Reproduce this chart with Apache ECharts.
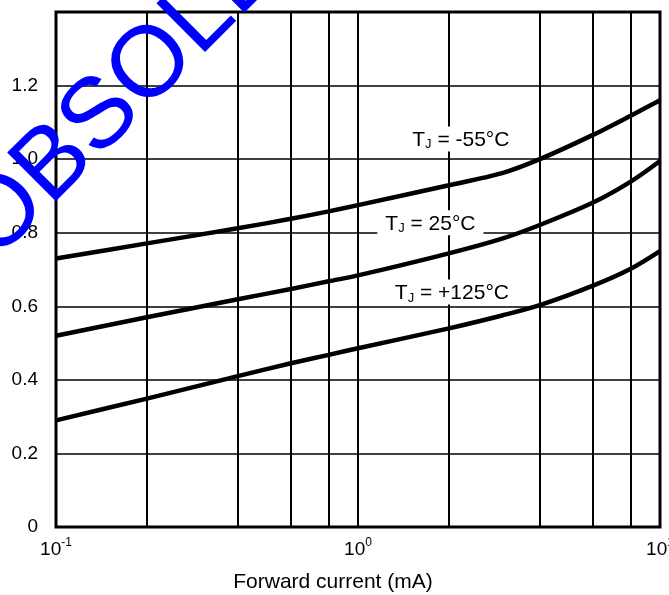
<!DOCTYPE html>
<html>
<head>
<meta charset="utf-8">
<script src="https://cdn.jsdelivr.net/npm/echarts@6/dist/echarts.min.js"></script>
<style>
  html, body { margin: 0; padding: 0; background: #fff; }
  #chart { width: 669px; height: 595px; }
</style>
</head>
<body>
<div id="chart"></div>
<script>
// forward current (mA) and forward voltage (V)
const currents = [0.1, 0.2, 0.4, 0.6, 0.8, 1, 2, 3, 4, 6, 8, 10]
const vfMinus55 = [0.73, 0.771, 0.812, 0.838, 0.858, 0.875, 0.929, 0.962, 1.0, 1.066, 1.118, 1.16]
const vf25 = [0.52, 0.57, 0.619, 0.647, 0.668, 0.684, 0.744, 0.784, 0.821, 0.882, 0.939, 0.995]
const vf125 = [0.29, 0.349, 0.41, 0.445, 0.468, 0.486, 0.54, 0.575, 0.603, 0.656, 0.702, 0.75]

// minor vertical grid lines inside each decade
const minorGrid = [0.2, 0.4, 0.6, 0.8, 2, 4, 6, 8]

// curve labels and where they sit (data coords)
const labelNames = ['-55°C', '25°C', '+125°C']
const labelAt = [[2.19, 1.055], [1.737, 0.827], [2.046, 0.639]]

const FONT = '"Liberation Sans", Arial, sans-serif'

const curve = (name, vals) => ({
  name: name,
  type: 'line',
  smooth: 0.3,
  symbol: 'none',
  z: 5,
  lineStyle: { color: '#000', width: 4.5 },
  data: currents.map((c, i) => [c, vals[i]])
})

const supLabel = v => {
  const e = Math.round(Math.log10(v))
  return '{b|10}{s|' + e + '}'
}

const option = {
  animation: false,
  backgroundColor: '#fff',
  grid: {
    left: 56, right: 9, top: 12, bottom: 68,
    outerBoundsMode: 'none',
    containLabel: false,
    show: true,
    borderColor: '#000',
    borderWidth: 3,
    z: 4
  },
  xAxis: {
    type: 'log',
    logBase: 10,
    min: 0.1,
    max: 10,
    axisLine: { show: false },
    axisTick: { show: false },
    splitLine: { show: true, lineStyle: { color: '#000', width: 2 } },
    axisLabel: {
      margin: 10,
      formatter: supLabel,
      rich: {
        b: { fontSize: 19, fontFamily: FONT, color: '#000', verticalAlign: 'bottom', lineHeight: 22 },
        s: { fontSize: 12, fontFamily: FONT, color: '#000', verticalAlign: 'top', lineHeight: 12 }
      }
    },
    name: 'Forward current (mA)',
    nameLocation: 'middle',
    nameGap: 45,
    nameTextStyle: { fontSize: 21, fontFamily: FONT, color: '#000', padding: [0, 50, 0, 0] }
  },
  yAxis: {
    type: 'value',
    min: 0,
    max: 1.4,
    interval: 0.2,
    axisLine: { show: false },
    axisTick: { show: false },
    splitLine: { show: true, lineStyle: { color: '#000', width: 1.5 } },
    axisLabel: {
      margin: 18,
      fontSize: 19,
      fontFamily: FONT,
      color: '#000',
      formatter: v => (v > 1.3 ? '' : v === 0 ? '0' : v.toFixed(1))
    }
  },
  series: [
    curve('TJ = -55°C', vfMinus55),
    curve('TJ = 25°C', vf25),
    curve('TJ = +125°C', vf125),
    {
      type: 'line',
      data: [],
      silent: true,
      markLine: {
        silent: true,
        symbol: 'none',
        label: { show: false },
        lineStyle: { color: '#000', width: 2, type: 'solid' },
        data: minorGrid.map(x => ({ xAxis: x }))
      }
    },
    {
      type: 'scatter',
      symbolSize: 0,
      silent: true,
      z: 6,
      itemStyle: { opacity: 1 },
      emphasis: { disabled: true },
      data: labelAt.map((p, i) => ({ value: p, name: labelNames[i] })),
      label: {
        show: true,
        position: 'inside',
        backgroundColor: '#fff',
        padding: [3, 8, 0, 8],
        formatter: p => '{t|T}{j|J}{t| = ' + p.name + '}',
        rich: {
          t: { fontSize: 21, fontFamily: FONT, color: '#000', verticalAlign: 'top', lineHeight: 22 },
          j: { fontSize: 13, fontFamily: FONT, color: '#000', verticalAlign: 'bottom', lineHeight: 22 }
        }
      }
    }
  ],
  graphic: [
    {
      type: 'text',
      x: 166,
      y: 52,
      rotation: Math.PI / 4,
      z: 100,
      style: {
        text: 'OBSOLETE',
        fill: '#0000ff',
        font: '100px ' + FONT,
        align: 'center',
        verticalAlign: 'middle'
      }
    }
  ]
}

const chart = echarts.init(document.getElementById('chart'))
chart.setOption(option)
</script>
</body>
</html>
